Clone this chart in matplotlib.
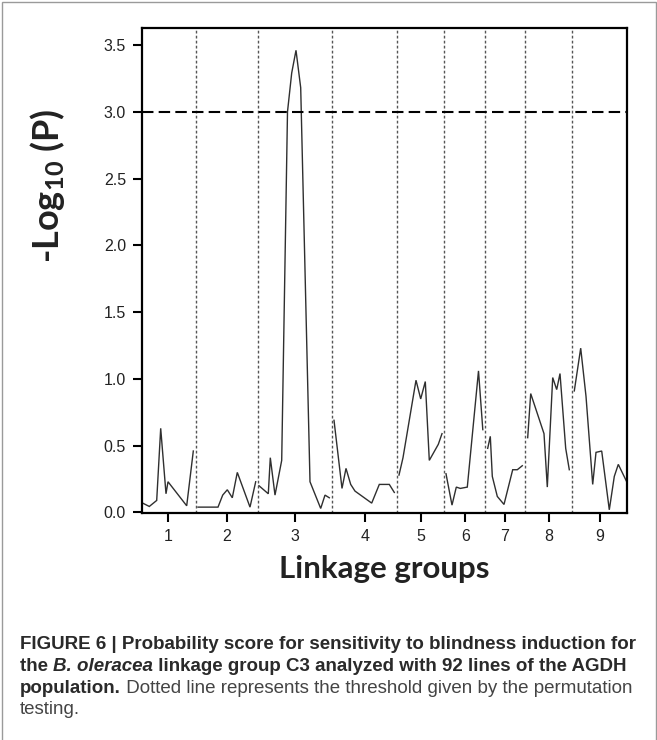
import matplotlib
matplotlib.use('Agg')
import matplotlib.pyplot as plt
import numpy as np
from matplotlib.patches import Rectangle

plt.rcParams['mathtext.fontset'] = 'custom'
plt.rcParams['mathtext.bf'] = 'Lato:bold'
plt.rcParams['mathtext.rm'] = 'Lato'
plt.rcParams['mathtext.it'] = 'Lato:italic'

# ---- data (position along map, -log10 P) ----
group_labels = ['1', '2', '3', '4', '5', '6', '7', '8', '9']
group_centers = [25.7, 84.7, 152.7, 222.7, 278.7, 323.3, 363.0, 406.7, 458.0]
group_bounds = [53.7, 115.7, 190.0, 254.7, 302.3, 343.3, 383.3, 430.0]
threshold = 3.0

lg1_pos = [0.7, 7.3, 14.7, 18.7, 24.0, 26.0, 44.7, 51.3]
lg1_val = [0.07, 0.045, 0.09, 0.63, 0.14, 0.23, 0.05, 0.46]
lg2_pos = [56.0, 76.0, 80.7, 85.3, 90.3, 95.3, 108.0, 113.7]
lg2_val = [0.04, 0.04, 0.13, 0.17, 0.11, 0.30, 0.04, 0.23]
lg3_pos = [117.0, 126.3, 128.3, 133.0, 139.7, 145.5, 149.7, 154.0, 158.7, 168.0, 178.7, 183.0, 187.3]
lg3_val = [0.20, 0.14, 0.41, 0.13, 0.39, 3.00, 3.29, 3.46, 3.18, 0.23, 0.03, 0.13, 0.11]
lg4_pos = [192.0, 200.0, 204.0, 208.7, 213.0, 229.7, 237.3, 247.3, 252.3]
lg4_val = [0.69, 0.18, 0.33, 0.21, 0.16, 0.07, 0.21, 0.21, 0.15]
lg5_pos = [257.0, 261.0, 274.0, 278.7, 283.3, 287.3, 296.3, 300.0]
lg5_val = [0.28, 0.41, 0.99, 0.85, 0.98, 0.39, 0.51, 0.59]
lg6_pos = [304.0, 310.0, 314.3, 318.3, 325.3, 336.5, 340.8]
lg6_val = [0.29, 0.055, 0.19, 0.18, 0.19, 1.06, 0.62]
lg7_pos = [345.7, 348.3, 350.3, 355.3, 362.0, 370.7, 375.3, 380.3]
lg7_val = [0.48, 0.57, 0.27, 0.12, 0.06, 0.32, 0.32, 0.35]
lg8_pos = [385.7, 388.7, 402.0, 405.3, 410.7, 414.7, 418.0, 423.7, 427.3]
lg8_val = [0.56, 0.89, 0.59, 0.19, 1.01, 0.92, 1.04, 0.48, 0.32]
lg9_pos = [432.3, 438.7, 444.0, 450.7, 454.0, 459.7, 467.3, 472.3, 476.3, 484.7]
lg9_val = [0.91, 1.23, 0.87, 0.21, 0.45, 0.46, 0.02, 0.27, 0.36, 0.23]

positions = [lg1_pos, lg2_pos, lg3_pos, lg4_pos, lg5_pos, lg6_pos, lg7_pos, lg8_pos, lg9_pos]
values = [lg1_val, lg2_val, lg3_val, lg4_val, lg5_val, lg6_val, lg7_val, lg8_val, lg9_val]

W, H = 657, 740
fig = plt.figure(figsize=(W / 100, H / 100), dpi=100)
fig.patch.set_facecolor('white')
ax = fig.add_axes([142 / W, 1 - 513 / H, 485 / W, 485 / H])

for pos, val in zip(positions, values):
    ax.plot(pos, val, color='#2f2f2f', lw=1.0, solid_joinstyle='miter')
for b in group_bounds:
    ax.axvline(b, color='#555555', lw=1.0, linestyle=(0, (2.0, 1.6)))
ax.axhline(threshold, color='black', lw=1.5, linestyle=(0, (5.5, 2.5)))

ax.set_xlim(0, 485)
ax.set_ylim(-0.004, 3.627)
ax.set_xticks(group_centers)
ax.set_xticklabels(group_labels)
ax.set_yticks(np.arange(0, 3.51, 0.5))
ax.set_yticklabels([f'{v:.1f}' for v in np.arange(0, 3.51, 0.5)])
for s in ax.spines.values():
    s.set_linewidth(1.6)
ax.tick_params(axis='both', direction='out', length=6.5, width=1.5, pad=5,
               labelsize=11.5, colors='black')
for lab in ax.get_xticklabels() + ax.get_yticklabels():
    lab.set_fontfamily('Liberation Sans')
    lab.set_color('#222222')

ax.set_xlabel('Linkage groups', fontfamily='Lato', fontweight='bold', fontsize=22.5,
              color='#222222', labelpad=8)
ax.set_ylabel(r'-Log$_{\mathbf{10}}$ (P)', fontfamily='Lato', fontweight='bold',
              fontsize=26, color='#222222')
ax.yaxis.set_label_coords(-0.155, 0.675)

# frame around figure
fig.add_artist(Rectangle((1.5 / W, -0.1), 654 / W, 1.1 - 1.5 / H,
                         transform=fig.transFigure, fill=False,
                         edgecolor='#9a9a9a', lw=1.0))

# caption
renderer = fig.canvas.get_renderer()
probe = fig.text(0, 0, 'the B. oleracea linkage group C3 analyzed with 92 lines of the AGDH',
                 fontfamily='Liberation Sans', fontweight='bold', fontsize=10)
wprobe = probe.get_window_extent(renderer).width
probe.remove()
cfs = 10 * 607 / wprobe

x0 = 20
baselines = [649, 671, 693, 714]
lines = [
    [('FIGURE 6 | Probability score for sensitivity to blindness induction for', 'bold', 'normal')],
    [('the ', 'bold', 'normal'), ('B. oleracea', 'bold', 'italic'),
     (' linkage group C3 analyzed with 92 lines of the AGDH', 'bold', 'normal')],
    [('population.', 'bold', 'normal'),
     (' Dotted line represents the threshold given by the permutation', 'normal', 'normal')],
    [('testing.', 'normal', 'normal')],
]
for bl, pieces in zip(baselines, lines):
    x = x0
    for txt, wt, st in pieces:
        t = fig.text(x / W, 1 - bl / H, txt, fontfamily='Liberation Sans', fontweight=wt,
                     fontstyle=st, fontsize=cfs, color='#2a2a2a' if wt == 'bold' else '#444444',
                     va='baseline', ha='left')
        ext = t.get_window_extent(renderer)
        x = ext.x1

fig.savefig('out.png', dpi=100)
